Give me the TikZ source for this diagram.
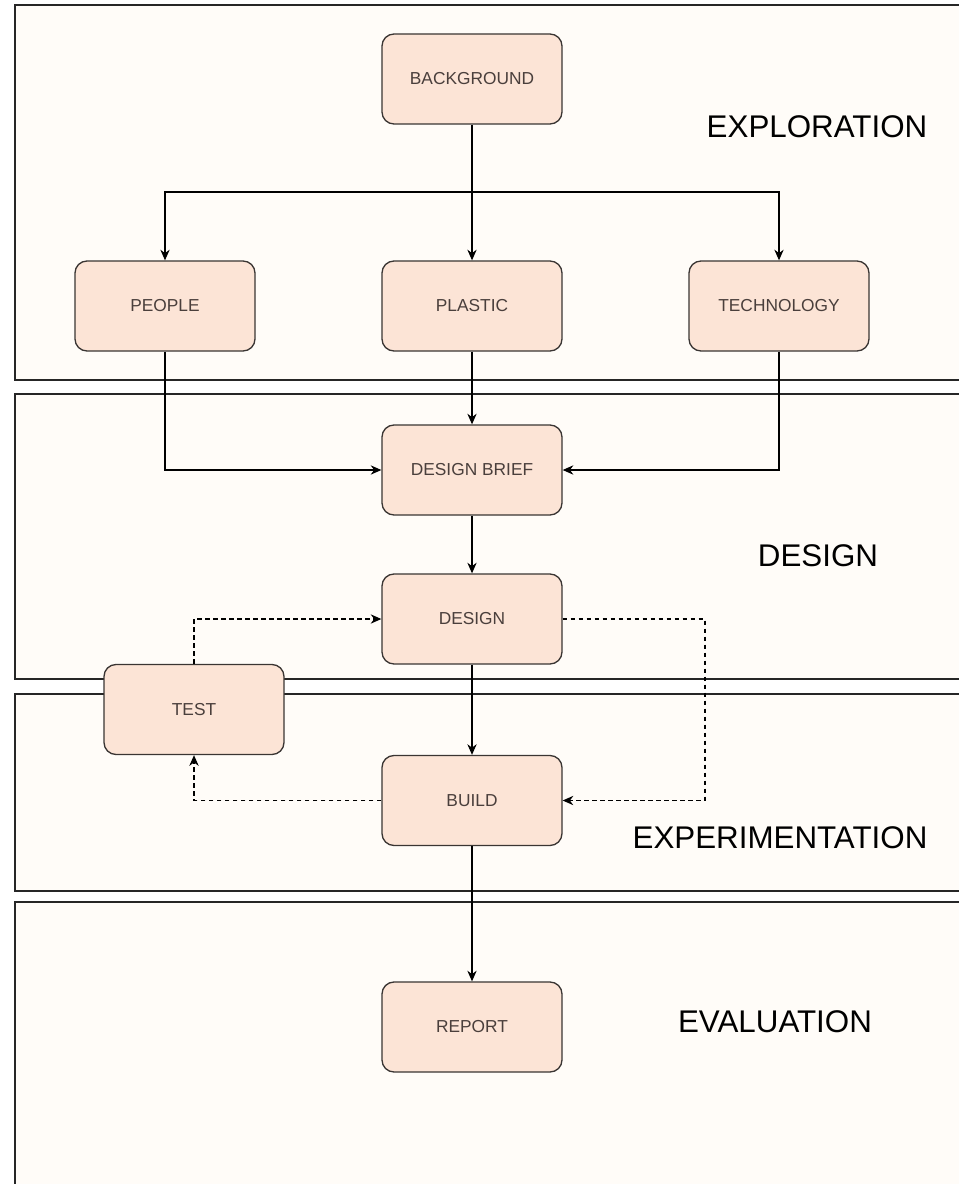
\documentclass[tikz,border=0pt]{standalone}
\usepackage{fontspec}
\setmainfont{Liberation Sans}
\usetikzlibrary{arrows.meta}
\definecolor{lanefill}{HTML}{FFFCF8}
\definecolor{boxfill}{HTML}{FCE4D6}
\definecolor{boxline}{HTML}{3A3533}
\definecolor{boxtext}{HTML}{4A3F3C}
\tikzset{
  lane/.style={draw=black!85, line width=1.1pt, fill=lanefill},
  stepbox/.style={draw=boxline, fill=boxfill, line width=1pt, rounded corners=9pt,
    minimum width=135pt, minimum height=67.5pt, inner sep=0pt,
    text=boxtext, font=\fontsize{13}{15}\selectfont},
  lanelabel/.style={font=\fontsize{23.5}{27}\selectfont, text=black},
  arr/.style={draw=black, line width=0.9pt, -{Stealth[length=8pt,width=7pt]}},
  darr/.style={arr, dash pattern=on 3.5pt off 2.5pt}
}
\begin{document}
\begin{tikzpicture}[x=0.75pt,y=-0.75pt]
\useasboundingbox (0,0) rectangle (959,1184);
\fill[white] (0,0) rectangle (959,1184);
\begin{scope}
\clip (0,0) rectangle (959,1184);
\draw[lane] (15,5) rectangle (975,380);
\draw[lane] (15,394) rectangle (975,679);
\draw[lane] (15,694) rectangle (975,891);
\draw[lane] (15,902) rectangle (975,1200);
\end{scope}

\node[lanelabel] (lexp) at (817,127) {EXPLORATION};
\node[lanelabel] (ldes) at (818,556) {DESIGN};
\node[lanelabel] (lexpe) at (780,838) {EXPERIMENTATION};
\node[lanelabel] (leval) at (775,1022) {EVALUATION};

\node[stepbox] (bg) at (472,79) {BACKGROUND};
\node[stepbox] (people) at (165,306) {PEOPLE};
\node[stepbox] (plastic) at (472,306) {PLASTIC};
\node[stepbox] (tech) at (779,306) {TECHNOLOGY};
\node[stepbox] (brief) at (472,470) {DESIGN BRIEF};
\node[stepbox] (design) at (472,619) {DESIGN};
\node[stepbox] (test) at (194,709.5) {TEST};
\node[stepbox] (build) at (472,800.5) {BUILD};
\node[stepbox] (report) at (472,1027) {REPORT};

\coordinate (split) at (472,192);
\coordinate (dr) at (705,700);

\draw[arr] (bg) -- (plastic);
\draw[arr] (split) -| (people);
\draw[arr] (split) -| (tech);
\draw[arr] (people.south) |- (brief.west);
\draw[arr] (plastic) -- (brief);
\draw[arr] (tech.south) |- (brief.east);
\draw[arr] (brief) -- (design);
\draw[arr] (design) -- (build);
\draw[arr] (build) -- (report);

\draw[darr] (test.north) |- (design.west);
\draw[darr] (design.east) -| (dr) |- (build.east);
\draw[darr] (build.west) -| (test.south);
\end{tikzpicture}
\end{document}
